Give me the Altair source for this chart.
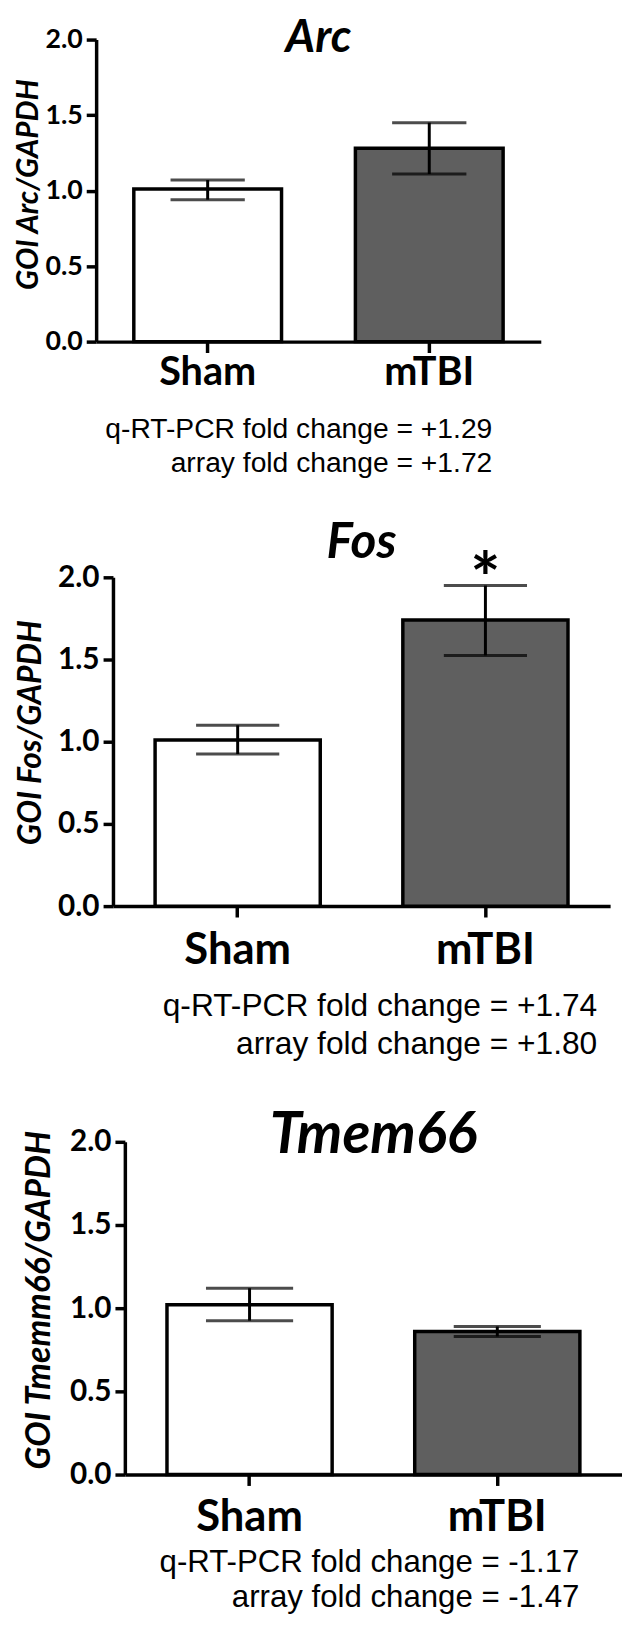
import altair as alt
import pandas as pd

# ---------------- data ----------------
groups = ["Sham", "mTBI"]
genes = ["Arc", "Fos", "Tmem66"]
y_titles = ["GOI Arc/GAPDH", "GOI Fos/GAPDH", "GOI Tmemm66/GAPDH"]

arc_mean = [1.01, 1.28]
arc_low = [0.94, 1.11]
arc_high = [1.07, 1.45]

fos_mean = [1.01, 1.74]
fos_low = [0.925, 1.525]
fos_high = [1.10, 1.95]

tmem_mean = [1.02, 0.86]
tmem_low = [0.925, 0.83]
tmem_high = [1.12, 0.89]

arc_sig = ["", ""]
fos_sig = ["", "*"]
tmem_sig = ["", ""]

qpcr_fold = ["+1.29", "+1.74", "-1.17"]
array_fold = ["+1.72", "+1.80", "-1.47"]

y_ticks = [0.0, 0.5, 1.0, 1.5, 2.0]
fill_colors = ["#ffffff", "#5f5f5f"]

# ---------------- layout / style (not data) ----------------
layout = [
    dict(h=305, shift=0, span=449, ylab=27, xlab=40, xpad=32, tfs=46, ty=13,
         ytfs=30, ytx=-68, yty=146, cap=75, afs=28.5, ax=400, ay1=97, ay2=132),
    dict(h=332, shift=17, span=502, ylab=30, xlab=44, xpad=47, tfs=50, ty=-20,
         ytfs=32, ytx=-83, yty=156.5, cap=84, afs=32, ax=506, ay1=111, ay2=149),
    dict(h=336, shift=29, span=502, ylab=30, xlab=44, xpad=45, tfs=58, ty=11,
         ytfs=34, ytx=-86, yty=159.5, cap=88, afs=31.5, ax=488, ay1=98, ay2=134),
]

panel_data = [
    (arc_mean, arc_low, arc_high, arc_sig),
    (fos_mean, fos_low, fos_high, fos_sig),
    (tmem_mean, tmem_low, tmem_high, tmem_sig),
]

BOLD = "Lato"
REG = "Liberation Sans"


def panel(i):
    g = genes[i]
    L = layout[i]
    mean, low, high, sig = panel_data[i]
    df = pd.DataFrame({"group": groups, "mean": mean, "low": low,
                       "high": high, "sig": sig})
    W = L["shift"] + L["span"]

    xscale = alt.Scale(domain=groups, range=[L["shift"], W],
                       paddingInner=1 / 3, paddingOuter=0.17)
    xaxis = alt.Axis(title=None, labelAngle=0, labelFont=BOLD,
                     labelFontWeight="bold", labelFontSize=L["xlab"],
                     labelColor="black", labelBaseline="alphabetic",
                     labelPadding=L["xpad"], tickSize=11, tickWidth=3.5,
                     tickColor="black", domainColor="black", domainWidth=3.5)
    yscale = alt.Scale(domain=[0, 2], nice=False)
    yaxis = alt.Axis(values=y_ticks, format=".1f", grid=False,
                     labelFont=BOLD, labelFontWeight="bold",
                     labelFontSize=L["ylab"], labelColor="black",
                     labelPadding=4, tickSize=10, tickWidth=3.5,
                     tickColor="black", domainColor="black", domainWidth=3.5,
                     offset=-L["shift"],
                     title=y_titles[i], titleFont=BOLD, titleFontWeight="bold",
                     titleFontStyle="italic", titleFontSize=L["ytfs"],
                     titleColor="black", titleAngle=270, titleAlign="center",
                     titleBaseline="middle", titleX=L["ytx"], titleY=L["yty"])

    X = alt.X("group:N", sort=groups, scale=xscale, axis=xaxis)

    bars = alt.Chart(df).mark_bar(stroke="black", strokeWidth=3.5).encode(
        x=X,
        y=alt.Y("mean:Q", scale=yscale, axis=yaxis),
        fill=alt.Fill("group:N", scale=alt.Scale(domain=groups, range=fill_colors),
                      legend=None),
    )
    rule = alt.Chart(df).mark_rule(color="black", strokeWidth=3).encode(
        x=X,
        y=alt.Y("low:Q", scale=yscale, axis=yaxis),
        y2="high:Q",
    )
    caps = alt.Chart(df).transform_fold(["low", "high"], as_=["end", "val"]).mark_tick(
        color="black", thickness=3, size=L["cap"]).encode(
        x=X,
        y=alt.Y("val:Q", scale=yscale, axis=yaxis),
    )
    star = alt.Chart(df).mark_text(font=BOLD, fontWeight="bold", fontSize=72,
                                   baseline="middle", dy=-3, color="black").encode(
        x=X,
        y=alt.Y("high:Q", scale=yscale, axis=yaxis),
        text="sig:N",
    )
    tdf = pd.DataFrame({"t": [g]})
    title = alt.Chart(tdf).mark_text(font=BOLD, fontWeight="bold", fontStyle="italic",
                                     fontSize=L["tfs"], baseline="alphabetic",
                                     align="center", color="black").encode(
        x=alt.value(L["shift"] + L["span"] / 2), y=alt.value(L["ty"]), text="t:N")
    a1df = pd.DataFrame({"t": ["q-RT-PCR fold change = " + qpcr_fold[i]]})
    a2df = pd.DataFrame({"t": ["array fold change = " + array_fold[i]]})
    ann1 = alt.Chart(a1df).mark_text(font=REG, fontSize=L["afs"], align="right",
                                     baseline="alphabetic", color="black").encode(
        x=alt.value(L["ax"]), y=alt.value(L["h"] + L["ay1"]), text="t:N")
    ann2 = alt.Chart(a2df).mark_text(font=REG, fontSize=L["afs"], align="right",
                                     baseline="alphabetic", color="black").encode(
        x=alt.value(L["ax"]), y=alt.value(L["h"] + L["ay2"]), text="t:N")

    return alt.layer(bars, rule, caps, star, title, ann1, ann2).properties(
        width=W, height=L["h"])


chart = alt.vconcat(panel(0), panel(1), panel(2), spacing=238, bounds="flush").properties(
    padding={"left": 6, "top": 0, "right": 0, "bottom": 0},
    background="white",
).configure_view(stroke=None)

chart.save("out.html", embed_options={"renderer": "svg", "actions": False})
